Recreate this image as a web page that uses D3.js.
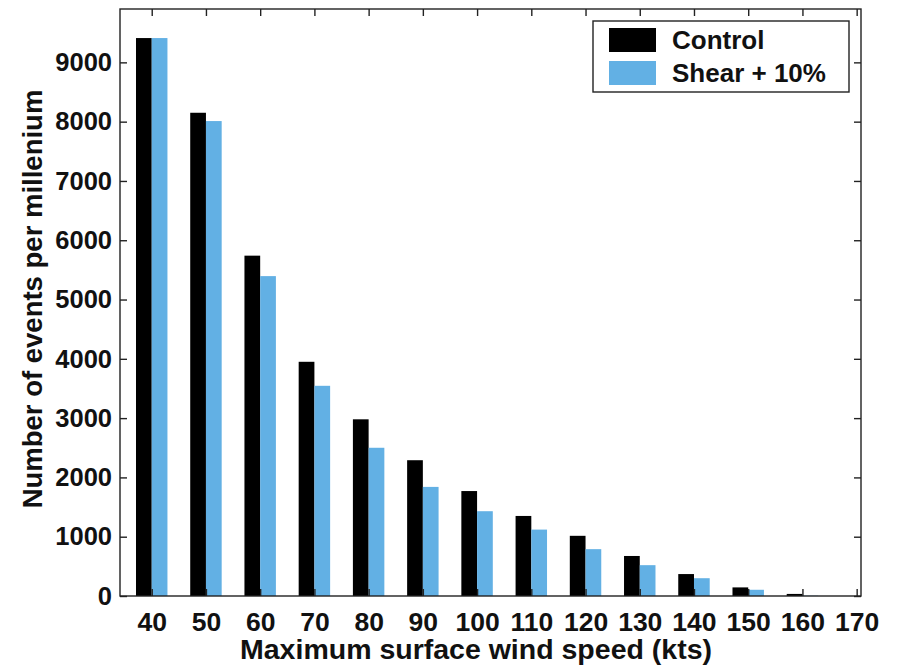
<!DOCTYPE html>
<html>
<head>
<meta charset="utf-8">
<script src="https://cdn.jsdelivr.net/npm/d3@7"></script>
<style>
  body { margin: 0; background: #fff; }
  text { font-family: 'Liberation Sans', Arial, sans-serif; font-weight: 700; fill: #111; }
</style>
</head>
<body>
<div id="chart"></div>
<script>
const speeds = [40, 50, 60, 70, 80, 90, 100, 110, 120, 130, 140, 150, 160, 170]
const control = [9410, 8150, 5740, 3950, 2980, 2290, 1770, 1350, 1015, 675, 370, 145, 35, 0]
const shear = [9410, 8010, 5395, 3545, 2500, 1840, 1430, 1120, 790, 520, 300, 105, 5, 0]
const yTicks = [0, 1000, 2000, 3000, 4000, 5000, 6000, 7000, 8000, 9000]
const seriesNames = ['Control', 'Shear + 10%']
const colors = ['#000000', '#62b0e4']

const width = 897, height = 666
const padding = { top: 9, bottom: 70, left: 120, right: 36 }
const innerWidth = width - padding.left - padding.right
const innerHeight = height - padding.top - padding.bottom

const xScale = d3.scaleLinear().domain([34.15, 170.8]).range([0, innerWidth])
const yScale = d3.scaleLinear().domain([0, 9900]).range([innerHeight, 0])
const barW = xScale(42.9) - xScale(40)

const svg = d3.select('#chart').append('svg')
              .attr('width', width)
              .attr('height', height)

const graph = svg.append('g')
                 .attr('transform', `translate(${padding.left}, ${padding.top})`)

// bars
const series = [control, shear]
series.forEach((vals, s) => {
    graph.append('g').selectAll('rect')
         .data(vals.map((v, i) => ({ x: speeds[i], v })))
         .join('rect')
         .attr('x', d => s === 0 ? xScale(d.x) - barW : xScale(d.x))
         .attr('width', barW)
         .attr('y', d => yScale(d.v))
         .attr('height', d => innerHeight - yScale(d.v))
         .attr('fill', colors[s])
})

// axes, ticks pointing inward
const styleAxis = size => g => {
    g.selectAll('.domain').remove()
    g.selectAll('.tick line').attr('stroke', '#222').attr('stroke-width', 1.4)
    if (size) g.selectAll('.tick text').style('font-size', size).attr('fill', '#111')
    else g.selectAll('.tick text').remove()
}

graph.append('g')
     .attr('transform', `translate(0, ${innerHeight})`)
     .call(d3.axisBottom(xScale).tickValues(speeds).tickSizeInner(-7).tickSizeOuter(0).tickPadding(16))
     .call(styleAxis('26.5px'))

graph.append('g')
     .call(d3.axisTop(xScale).tickValues(speeds).tickSizeInner(-7).tickSizeOuter(0))
     .call(styleAxis(null))

graph.append('g')
     .call(d3.axisLeft(yScale).tickValues(yTicks).tickFormat(d3.format('d'))
             .tickSizeInner(-7).tickSizeOuter(0).tickPadding(8))
     .call(styleAxis('25.5px'))

graph.append('g')
     .attr('transform', `translate(${innerWidth}, 0)`)
     .call(d3.axisRight(yScale).tickValues(yTicks).tickSizeInner(-7).tickSizeOuter(0))
     .call(styleAxis(null))

// frame
graph.append('rect')
     .attr('width', innerWidth)
     .attr('height', innerHeight)
     .attr('fill', 'none')
     .attr('stroke', '#222')
     .attr('stroke-width', 1.4)

// axis titles
svg.append('text')
   .text('Maximum surface wind speed (kts)')
   .attr('text-anchor', 'middle')
   .attr('x', 476)
   .attr('y', 659)
   .style('font-size', '28.5px')

svg.append('text')
   .text('Number of events per millenium')
   .attr('text-anchor', 'middle')
   .attr('transform', 'translate(42, 299) rotate(-90)')
   .style('font-size', '27.5px')

// legend
const legend = svg.append('g').attr('transform', 'translate(593, 21)')
legend.append('rect')
      .attr('width', 256)
      .attr('height', 71)
      .attr('fill', '#fff')
      .attr('stroke', '#222')
      .attr('stroke-width', 1.4)
seriesNames.forEach((name, i) => {
    legend.append('rect')
          .attr('x', 16)
          .attr('y', 7 + i * 33)
          .attr('width', 47)
          .attr('height', 24)
          .attr('fill', colors[i])
    legend.append('text')
          .text(name)
          .attr('x', 79)
          .attr('y', 28 + i * 33)
          .style('font-size', '26px')
})
</script>
</body>
</html>
